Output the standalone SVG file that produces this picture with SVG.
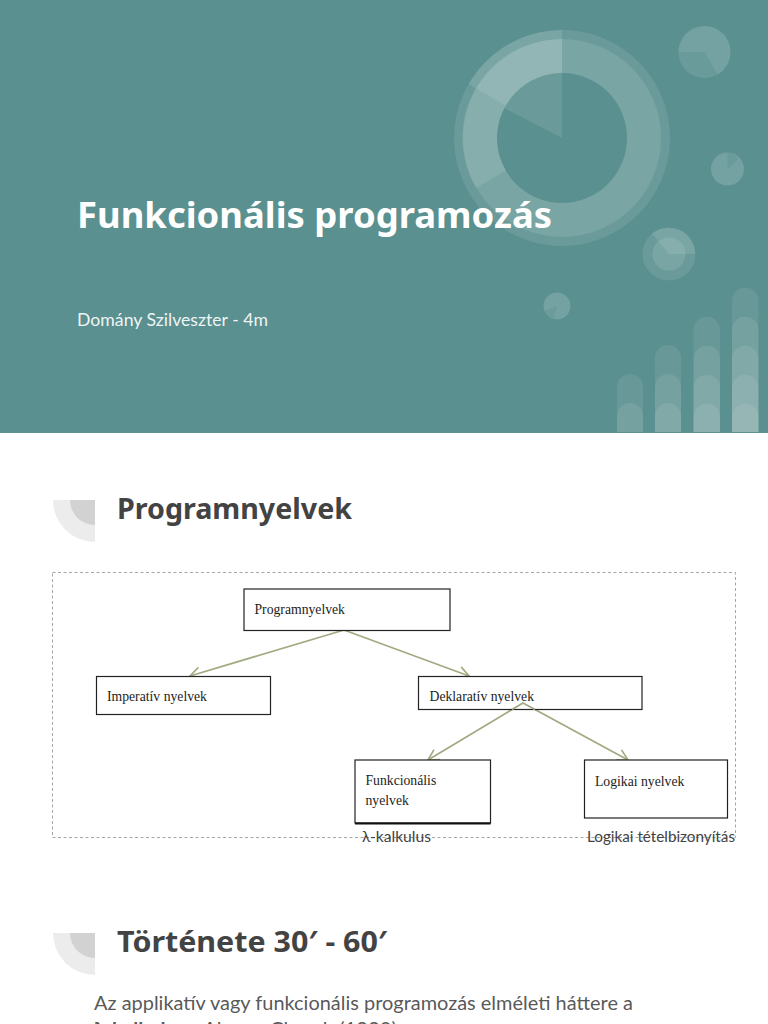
<svg xmlns="http://www.w3.org/2000/svg" width="768" height="1024" viewBox="0 0 768 1024">
<style>
.w{fill:#fff}
.a{fill:#fff;fill-opacity:.1}
.b{fill:#fff;fill-opacity:.16}
.bar{fill:#fff;fill-opacity:.085}
.box{fill:#fff;stroke:#222;stroke-width:1.2}
.t{font-family:"Liberation Serif",serif;font-size:13.700px;fill:#222}
.h{font-family:"Noto Sans",sans-serif;font-weight:700;font-size:28px;fill:#434343}
.n{font-family:"Lato","Noto Sans",sans-serif;fill:#434343}
.c{stroke:#a0ab82;stroke-width:1.8;fill:none;marker-end:url(#ah)}
</style>
<defs>
<marker id="ah" markerUnits="userSpaceOnUse" markerWidth="14" markerHeight="14" refX="11" refY="6" orient="auto" viewBox="0 0 12 12"><path d="M2 1L11 6L2 11" fill="none" stroke="#a0ab82" stroke-width="1.4"/></marker>
<path id="ic" d="M-42 0H0V42A42 42 0 0 1-42 0Z" fill="#ececec"/>
</defs>
<rect width="768" height="1024" fill="#fff"/>
<g id="cover">
<rect width="768" height="433" fill="#5a908f"/>
<g id="ring">
<circle class="a" cx="562" cy="138" r="108"/>
<circle class="a" cx="562" cy="138" r="99"/>
<path class="a" d="M562 138L474 91A99.500 99.500 0 0 1 562 39Z"/>
<path class="a" d="M562 138V30A108 108 0 0 0 468.500 84Z"/>
<path class="a" d="M562 138L474 91A99.500 99.500 0 0 0 476 188Z"/>
<circle cx="562" cy="138" r="65" fill="#5a908f"/>
<path class="a" d="M562 138L504 108A65 65 0 0 1 562 73Z"/>
</g>
<g id="dots">
<circle class="b" cx="704.500" cy="52" r="26"/>
<path d="M705 52H678.500A26 26 0 0 0 717.500 74.500Z" fill="#5a908f" fill-opacity=".35"/>
<circle class="b" cx="727.500" cy="169" r="16.500"/>
<path d="M727.500 169V152.500A16.500 16.500 0 0 1 738 159Z" fill="#5a908f" fill-opacity=".35"/>
<circle class="a" cx="669" cy="254" r="26.500"/>
<circle class="a" cx="669" cy="254" r="16.500"/>
<path class="a" d="M669 254L652 233.500A26.500 26.500 0 0 1 695 254Z"/>
<circle class="b" cx="557" cy="306" r="13.500"/>
<path d="M557 306L544.500 311A13.500 13.500 0 0 0 553.500 319Z" fill="#5a908f" fill-opacity=".3"/>
</g>
<g id="bars">
<path class="bar" d="M617 432V387A13 13 0 0 1 643 387V432Z"/>
<path class="bar" d="M617 432V416A13 13 0 0 1 643 416V432Z"/>
<path class="bar" d="M655 432V358A13 13 0 0 1 681 358V432Z"/>
<path class="bar" d="M655 432V387A13 13 0 0 1 681 387V432Z"/>
<path class="bar" d="M655 432V416A13 13 0 0 1 681 416V432Z"/>
<path class="bar" d="M693.500 432V329A13.300 13.300 0 0 1 720 329V432Z"/>
<path class="bar" d="M693.500 432V358A13.300 13.300 0 0 1 720 358V432Z"/>
<path class="bar" d="M693.500 432V387A13.300 13.300 0 0 1 720 387V432Z"/>
<path class="bar" d="M693.500 432V416A13.300 13.300 0 0 1 720 416V432Z"/>
<path class="bar" d="M732 432V300A13.300 13.300 0 0 1 758.500 300V432Z"/>
<path class="bar" d="M732 432V329A13.300 13.300 0 0 1 758.500 329V432Z"/>
<path class="bar" d="M732 432V358A13.300 13.300 0 0 1 758.500 358V432Z"/>
<path class="bar" d="M732 432V387A13.300 13.300 0 0 1 758.500 387V432Z"/>
<path class="bar" d="M732 432V416A13.300 13.300 0 0 1 758.500 416V432Z"/>
</g>
<text x="77" y="228" font-family="Noto Sans,sans-serif" font-weight="700" font-size="36" class="w" textLength="475" lengthAdjust="spacingAndGlyphs">Funkcionális programozás</text>
<text x="77" y="326" font-family="Lato,Noto Sans,sans-serif" font-size="16.500" fill="#fff" fill-opacity=".92" textLength="191" lengthAdjust="spacingAndGlyphs">Domány Szilveszter - 4m</text>
</g>
<g id="heading1">
<use href="#ic" x="95" y="500"/>
<path d="M70 500H95V525A25 25 0 0 1 70 500Z" fill="#d2d2d2"/>
<text class="h" x="117" y="519" textLength="235" lengthAdjust="spacingAndGlyphs">Programnyelvek</text>
</g>
<rect id="frame" x="52.500" y="572.500" width="683" height="265" fill="none" stroke="#a5a5a5" stroke-width="1" stroke-dasharray="3 2.500"/>
<g id="connectors">
<path class="c" d="M344 630L190 676"/>
<path class="c" d="M344 630L469 676"/>
<path class="c" d="M523 703L428 760"/>
<path class="c" d="M523 703L628 760"/>
</g>
<g id="n1"><rect class="box" x="244" y="589" width="206" height="41.500"/><text class="t" x="254.500" y="614">Programnyelvek</text></g>
<g id="n2"><rect class="box" x="96.500" y="676.500" width="174" height="38"/><text class="t" x="107" y="701">Imperatív nyelvek</text></g>
<g id="n3"><rect class="box" x="418.500" y="676.500" width="223.500" height="33"/><path class="c" style="marker-end:none" d="M512 709.500L523 703L535 709.500"/><text class="t" x="429.500" y="701">Deklaratív nyelvek</text></g>
<g id="n4"><rect class="box" x="355" y="760" width="135.500" height="63"/><path d="M355 823.500H490.500" stroke="#111" stroke-width="1.800"/><text class="t" x="365.500" y="785">Funkcionális</text><text class="t" x="365.500" y="805">nyelvek</text></g>
<g id="n5"><rect class="box" x="584.500" y="760" width="143" height="58"/><text class="t" x="595" y="786">Logikai nyelvek</text></g>
<text class="n" x="362" y="842" font-size="14.500" textLength="69" lengthAdjust="spacingAndGlyphs">λ-kalkulus</text>
<text class="n" x="587" y="842" font-size="14.500" textLength="148" lengthAdjust="spacingAndGlyphs">Logikai tételbizonyítás</text>
<g id="heading2">
<use href="#ic" x="95" y="933"/>
<path d="M70 933H95V958A25 25 0 0 1 70 933Z" fill="#d2d2d2"/>
<text class="h" x="117" y="952" textLength="270" lengthAdjust="spacingAndGlyphs">Története 30′ - 60′</text>
</g>
<text class="n" x="94" y="1010" font-size="18.500" fill-opacity=".9" textLength="539" lengthAdjust="spacingAndGlyphs">Az applikatív vagy funkcionális programozás elméleti háttere a</text>
<text class="n" x="94" y="1036" font-size="18.500" fill-opacity=".9" textLength="303" lengthAdjust="spacingAndGlyphs"><tspan font-weight="700">λ-kalkulus</tspan> - Alonzo Church (1930)</text>
</svg>
